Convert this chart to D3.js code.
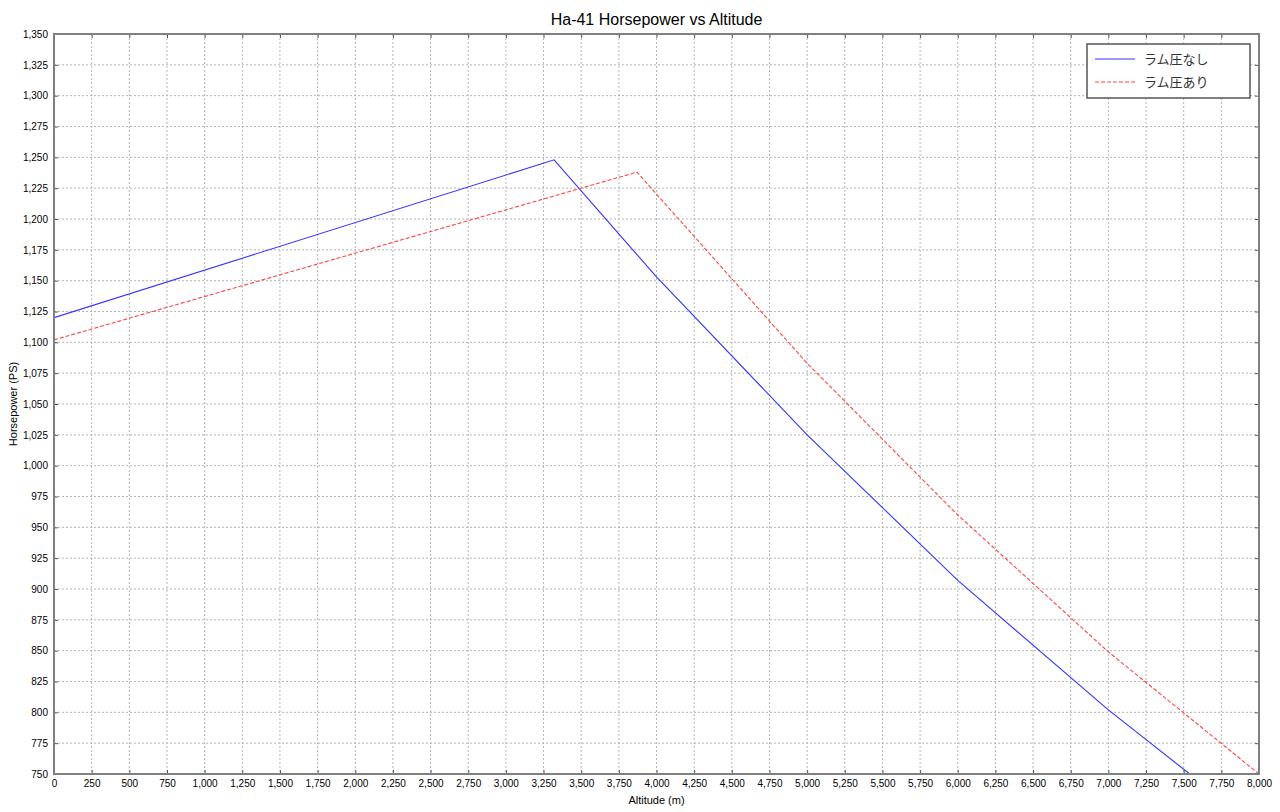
<!DOCTYPE html>
<html>
<head>
<meta charset="utf-8">
<script src="https://cdn.jsdelivr.net/npm/d3@7"></script>
<style>
  body { margin: 0; background: #fff; }
  text { font-family: "Liberation Sans", Arial, sans-serif; }
</style>
</head>
<body>
<svg width="1280" height="812"></svg>
<script>
const altNoRam = [0, 3320, 4000, 5000, 6000, 7000, 7540];
const hpNoRam = [1120, 1248, 1153, 1025, 907, 802, 750];
const altRam = [0, 3870, 5000, 6000, 7000, 8000];
const hpRam = [1102, 1238, 1083, 960, 849, 750];
const seriesNames = ["ラム圧なし", "ラム圧あり"];

const svg = d3.select("svg");
const width = 1280;
const height = 812;
const margin = { top: 34, right: 21, bottom: 38, left: 54 };

const xScale = d3.scaleLinear()
    .domain([0, 8000])
    .range([margin.left, width - margin.right]);

const yScale = d3.scaleLinear()
    .domain([750, 1350])
    .range([height - margin.bottom, margin.top]);

const xTicks = d3.range(0, 8001, 250);
const yTicks = d3.range(750, 1351, 25);
const fmt = d3.format(",");

// grid
svg.append("g").selectAll("line")
    .data(xTicks)
    .enter()
    .append("line")
    .attr("x1", d => xScale(d)).attr("x2", d => xScale(d))
    .attr("y1", margin.top).attr("y2", height - margin.bottom)
    .attr("stroke", "#b4b4b4")
    .attr("stroke-dasharray", "2,2");

svg.append("g").selectAll("line")
    .data(yTicks)
    .enter()
    .append("line")
    .attr("x1", margin.left).attr("x2", width - margin.right)
    .attr("y1", d => yScale(d)).attr("y2", d => yScale(d))
    .attr("stroke", "#b4b4b4")
    .attr("stroke-dasharray", "2,2");

// lines
svg.append("clipPath").attr("id", "clip")
    .append("rect")
    .attr("x", margin.left).attr("y", margin.top)
    .attr("width", width - margin.left - margin.right)
    .attr("height", height - margin.top - margin.bottom);

const line = d3.line()
    .x(d => xScale(d[0]))
    .y(d => yScale(d[1]));

svg.append("path")
    .datum(altNoRam.map((a, i) => [a, hpNoRam[i]]))
    .attr("clip-path", "url(#clip)")
    .attr("d", line)
    .attr("fill", "none")
    .attr("stroke", "#3333ff")
    .attr("stroke-width", 1.1);

svg.append("path")
    .datum(altRam.map((a, i) => [a, hpRam[i]]))
    .attr("clip-path", "url(#clip)")
    .attr("d", line)
    .attr("fill", "none")
    .attr("stroke", "#ff4444")
    .attr("stroke-width", 1.1)
    .attr("stroke-dasharray", "4,2");

// axes with inner ticks
svg.append("g")
    .attr("transform", `translate(0,${height - margin.bottom})`)
    .call(d3.axisBottom(xScale).tickValues(xTicks).tickFormat(fmt).tickSizeInner(-4).tickSizeOuter(0).tickPadding(6))
    .call(g => g.select(".domain").remove())
    .call(g => g.selectAll("line").attr("stroke", "#555"))
    .call(g => g.selectAll("text").attr("fill", "#000").style("font-size", "10px"));

svg.append("g")
    .attr("transform", `translate(${margin.left},0)`)
    .call(d3.axisLeft(yScale).tickValues(yTicks).tickFormat(fmt).tickSizeInner(-4).tickSizeOuter(0).tickPadding(6))
    .call(g => g.select(".domain").remove())
    .call(g => g.selectAll("line").attr("stroke", "#555"))
    .call(g => g.selectAll("text").attr("fill", "#000").style("font-size", "10px"));

svg.append("g")
    .attr("transform", `translate(0,${margin.top})`)
    .call(d3.axisTop(xScale).tickValues(xTicks).tickFormat("").tickSizeInner(-4).tickSizeOuter(0))
    .call(g => g.select(".domain").remove())
    .call(g => g.selectAll("line").attr("stroke", "#555"));

svg.append("g")
    .attr("transform", `translate(${width - margin.right},0)`)
    .call(d3.axisRight(yScale).tickValues(yTicks).tickFormat("").tickSizeInner(-4).tickSizeOuter(0))
    .call(g => g.select(".domain").remove())
    .call(g => g.selectAll("line").attr("stroke", "#555"));

svg.append("rect")
    .attr("x", margin.left)
    .attr("y", margin.top)
    .attr("width", width - margin.left - margin.right)
    .attr("height", height - margin.top - margin.bottom)
    .attr("fill", "none")
    .attr("stroke", "#808080")
    .attr("stroke-width", 2);

// title and labels
svg.append("text")
    .attr("x", (margin.left + width - margin.right) / 2)
    .attr("y", 25)
    .attr("text-anchor", "middle")
    .style("font-size", "16px")
    .text("Ha-41 Horsepower vs Altitude");

svg.append("text")
    .attr("x", (margin.left + width - margin.right) / 2)
    .attr("y", 804)
    .attr("text-anchor", "middle")
    .style("font-size", "11px")
    .text("Altitude (m)");

svg.append("text")
    .attr("transform", "rotate(-90)")
    .attr("x", -(margin.top + height - margin.bottom) / 2)
    .attr("y", 17)
    .attr("text-anchor", "middle")
    .style("font-size", "11px")
    .text("Horsepower (PS)");

// legend
const legend = svg.append("g").attr("transform", "translate(1087,44)");
legend.append("rect")
    .attr("width", 163)
    .attr("height", 54)
    .attr("fill", "#fff")
    .attr("stroke", "#555")
    .attr("stroke-width", 1.5);

const legendStyles = [
    { color: "#3333ff", dash: null },
    { color: "#ff4444", dash: "4,2" }
];

seriesNames.forEach(function(name, i) {
    const yy = 15 + i * 23;
    legend.append("line")
        .attr("x1", 8).attr("x2", 48)
        .attr("y1", yy).attr("y2", yy)
        .attr("stroke", legendStyles[i].color)
        .attr("stroke-width", 1.1)
        .attr("stroke-dasharray", legendStyles[i].dash);
    legend.append("text")
        .attr("x", 57)
        .attr("y", yy + 5)
        .style("font-family", "'Noto Sans CJK JP', sans-serif")
        .style("font-size", "13px")
        .attr("fill", "#333")
        .text(name);
});
</script>
</body>
</html>
